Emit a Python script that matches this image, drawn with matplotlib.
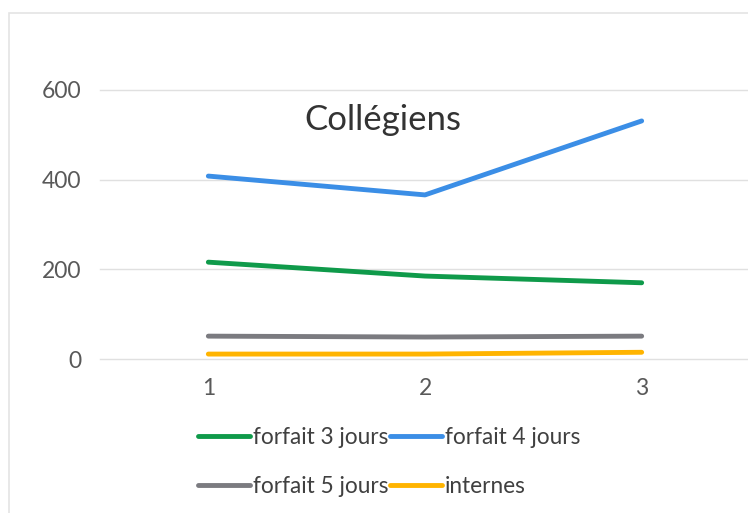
import matplotlib
matplotlib.use("Agg")
import matplotlib.pyplot as plt
from matplotlib.patches import Rectangle

plt.rcParams['font.family'] = ['Lato', 'DejaVu Sans']

x = [1, 2, 3]
series_names = ["forfait 3 jours", "forfait 4 jours", "forfait 5 jours", "internes"]
forfait3 = [216, 185, 170]
forfait4 = [408, 366, 531]
forfait5 = [51, 49, 51]
internes = [11, 11, 15]
colors = ["#0f9a4a", "#3b8ee6", "#7b7b80", "#ffb400"]
title = "Collégiens"

fig = plt.figure(figsize=(7.48, 5.13), dpi=100)
fig.patches.append(Rectangle((9/748, -0.1), 1.0, 1 - 13/513 + 0.1, transform=fig.transFigure,
                             fill=False, edgecolor="#e4e4e4", linewidth=1.2))

ax = fig.add_axes([100/748, 1 - 359/513, 650/748, (359 - 90)/513])
handles = []
for ys, name, c in zip([forfait3, forfait4, forfait5, internes], series_names, colors):
    h, = ax.plot(x, ys, color=c, linewidth=3.5, label=name, solid_capstyle='round')
    handles.append(h)

ax.set_xlim(0.5, 3.5)
ax.set_ylim(0, 600)
ax.set_yticks([0, 200, 400, 600])
ax.set_xticks(x)
ax.set_xticklabels([str(v) for v in x])
ax.grid(axis='y', color="#e0e0e0", linewidth=1)
for gl in ax.get_ygridlines():
    gl.set_clip_on(False)
ax.set_axisbelow(True)
for s in ["top", "right", "left", "bottom"]:
    ax.spines[s].set_visible(False)
ax.tick_params(length=0, labelsize=16.5, colors="#595959")
ax.tick_params(axis='y', pad=13.5)
ax.tick_params(axis='x', pad=14)
ax.set_facecolor("none")

ax.text(383/748, 1 - 120/513, title, transform=fig.transFigure, ha='center', va='center',
        fontsize=25, color="#333333")

order = [0, 2, 1, 3]
leg = fig.legend([handles[i] for i in order], [series_names[i] for i in order],
                 loc='center', bbox_to_anchor=(389/748, 1 - 462/513), ncol=2, frameon=False,
                 fontsize=16.3, handlelength=2.3, handletextpad=0.15, columnspacing=0.05,
                 labelspacing=1.2, labelcolor="#404040")

fig.savefig("out.png", dpi=100, facecolor="white")
